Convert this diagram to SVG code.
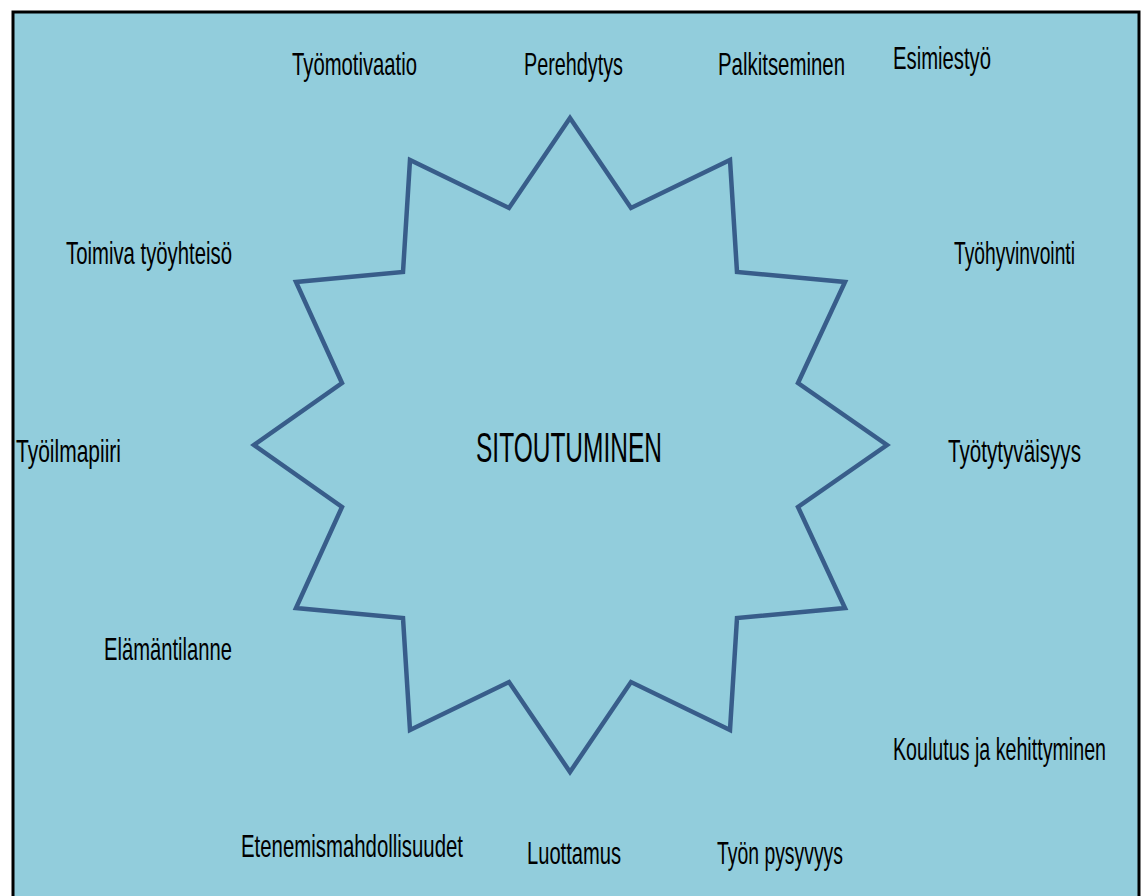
<svg xmlns="http://www.w3.org/2000/svg" width="1146" height="896" viewBox="0 0 1146 896">
<style>
.lbl{font-family:"Liberation Sans",Arial,sans-serif;font-size:32px;fill:#000}
.ctr{font-family:"Liberation Sans",Arial,sans-serif;font-size:42px;fill:#000}
</style>
<rect x="0" y="0" width="1146" height="896" fill="#ffffff"/>
<rect id="frame" x="13" y="12" width="1126" height="900" fill="#92CDDC" stroke="#000" stroke-width="3"/>
<g id="star">
<polygon points="570,118 631,208 730,160 737,272 845,282 798,383 887,445 798,507 845,608 737,618 730,730 631,682 570,772 509,682 410,730 403,618 296,608 342,507 254,445 342,383 296,282 403,272 410,160 509,208" fill="none" stroke="#385D8A" stroke-width="4.5" stroke-linejoin="miter"/>
<text class="ctr" x="476" y="462" textLength="186" lengthAdjust="spacingAndGlyphs">SITOUTUMINEN</text>
</g>
<g id="labels">
<g id="n1"><text class="lbl" x="292" y="75" textLength="125" lengthAdjust="spacingAndGlyphs">Työmotivaatio</text></g>
<g id="n2"><text class="lbl" x="524" y="75" textLength="99" lengthAdjust="spacingAndGlyphs">Perehdytys</text></g>
<g id="n3"><text class="lbl" x="718" y="75" textLength="127" lengthAdjust="spacingAndGlyphs">Palkitseminen</text></g>
<g id="n4"><text class="lbl" x="893" y="69" textLength="98" lengthAdjust="spacingAndGlyphs">Esimiestyö</text></g>
<g id="n5"><text class="lbl" x="66" y="264" textLength="166" lengthAdjust="spacingAndGlyphs">Toimiva työyhteisö</text></g>
<g id="n6"><text class="lbl" x="954" y="264" textLength="121" lengthAdjust="spacingAndGlyphs">Työhyvinvointi</text></g>
<g id="n7"><text class="lbl" x="16" y="462" textLength="105" lengthAdjust="spacingAndGlyphs">Työilmapiiri</text></g>
<g id="n8"><text class="lbl" x="948" y="462" textLength="133" lengthAdjust="spacingAndGlyphs">Työtytyväisyys</text></g>
<g id="n9"><text class="lbl" x="104" y="660" textLength="128" lengthAdjust="spacingAndGlyphs">Elämäntilanne</text></g>
<g id="n10"><text class="lbl" x="893" y="760" textLength="213" lengthAdjust="spacingAndGlyphs">Koulutus ja kehittyminen</text></g>
<g id="n11"><text class="lbl" x="241" y="857" textLength="222" lengthAdjust="spacingAndGlyphs">Etenemismahdollisuudet</text></g>
<g id="n12"><text class="lbl" x="527" y="864" textLength="94" lengthAdjust="spacingAndGlyphs">Luottamus</text></g>
<g id="n13"><text class="lbl" x="717" y="864" textLength="126" lengthAdjust="spacingAndGlyphs">Työn pysyvyys</text></g>
</g>
<g id="connectors"></g>
</svg>
